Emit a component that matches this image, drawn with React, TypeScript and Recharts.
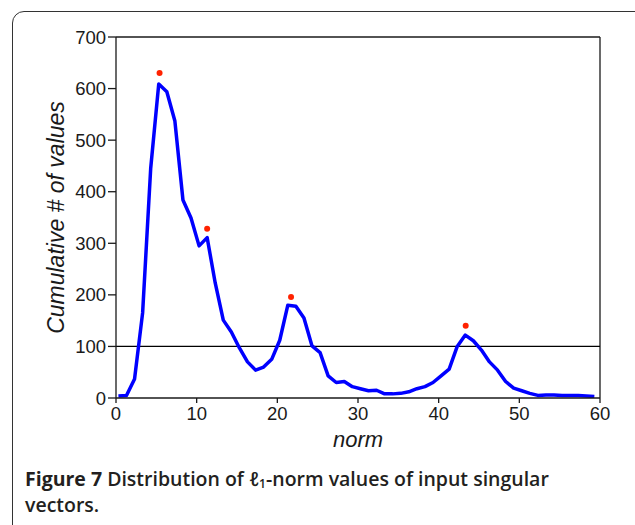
import React from 'react';
import { ComposedChart, Line, Scatter, XAxis, YAxis, ReferenceLine } from 'recharts';

const normValues = [
  0.3, 1.3, 2.3, 3.3, 4.3, 5.3, 6.3, 7.3, 8.3, 9.3,
  10.3, 11.3, 12.3, 13.3, 14.3, 15.3, 16.3, 17.3, 18.3, 19.3,
  20.3, 21.3, 22.3, 23.3, 24.3, 25.3, 26.3, 27.3, 28.3, 29.3,
  30.3, 31.3, 32.3, 33.3, 34.3, 35.3, 36.3, 37.3, 38.3, 39.3,
  40.3, 41.3, 42.3, 43.3, 44.3, 45.3, 46.3, 47.3, 48.3, 49.3,
  50.3, 51.3, 52.3, 53.3, 54.3, 55.3, 56.3, 57.3, 58.3, 59.3,
];
const counts = [
  4, 5, 37, 165, 445, 609, 594, 537, 384, 349,
  295, 311, 223, 151, 128, 97, 70, 54, 60, 75,
  112, 180, 178, 155, 101, 88, 43, 30, 32, 22,
  18, 14, 15, 8, 8, 9, 12, 18, 22, 30,
  43, 56, 100, 122, 111, 93, 70, 54, 32, 19,
  14, 9, 5, 6, 6, 5, 5, 5, 4, 3,
];
const peakNorms = [5.4, 11.3, 21.7, 43.35];
const peakCounts = [630, 328, 196, 140];
const xTicks = [0, 10, 20, 30, 40, 50, 60];
const yTicks = [0, 100, 200, 300, 400, 500, 600, 700];

const curve = normValues.map((n, i) => ({ norm: n, count: counts[i] }));
const peaks = peakNorms.map((n, i) => ({ norm: n, count: peakCounts[i] }));

const axisColor = '#1a1a1a';
const FONT = 'Liberation Sans, Arial, sans-serif';

const XTick = (props: any) => {
  const { x, y, payload } = props;
  return (
    <text x={x} y={y + 15} textAnchor="middle" fontFamily={FONT} fontSize={18.5} fill="#1a1a1a">
      {payload.value}
    </text>
  );
};

const YTick = (props: any) => {
  const { x, y, payload } = props;
  return (
    <text x={x} y={y + 6.5} textAnchor="end" fontFamily={FONT} fontSize={18.5} fill="#1a1a1a">
      {payload.value}
    </text>
  );
};

const captionStyle: React.CSSProperties = {
  position: 'absolute',
  left: 25,
  fontFamily: '"Open Sans", sans-serif',
  fontSize: 19.5,
  fontWeight: 600,
  lineHeight: '26px',
  color: '#231f20',
  whiteSpace: 'nowrap',
};

export default function App() {
  return (
    <div style={{ position: 'fixed', left: 0, top: 0, width: 635, height: 525, overflow: 'hidden', background: '#fff' }}>
      <div
        style={{
          position: 'absolute',
          left: 12,
          top: 11,
          width: 660,
          height: 560,
          border: '1.5px solid #333',
          borderRadius: 12,
          boxSizing: 'border-box',
        }}
      />
      <div style={{ position: 'absolute', left: 0, top: 0 }}>
        <ComposedChart width={635} height={470} margin={{ top: 37, right: 35, left: 0, bottom: 17 }}>
          <XAxis
            dataKey="norm"
            type="number"
            domain={[0, 60]}
            ticks={xTicks}
            allowDataOverflow
            stroke={axisColor}
            strokeWidth={1.3}
            tickSize={5}
            tickMargin={2}
            tick={<XTick />}
            height={55}
            label={{
              value: 'norm',
              position: 'insideBottom',
              offset: 6,
              style: { fontFamily: FONT, fontSize: 22, fontStyle: 'italic', fill: '#1a1a1a' },
            }}
          />
          <YAxis
            dataKey="count"
            type="number"
            domain={[0, 700]}
            ticks={yTicks}
            allowDataOverflow
            stroke={axisColor}
            strokeWidth={1.3}
            tickSize={8}
            tickMargin={2}
            tick={<YTick />}
            width={116}
            label={{
              value: 'Cumulative # of values',
              angle: -90,
              position: 'center',
              dx: -2,
              style: { fontFamily: FONT, fontSize: 23, fontStyle: 'italic', fill: '#1a1a1a', textAnchor: 'middle' },
            }}
          />
          <ReferenceLine y={700} stroke={axisColor} strokeWidth={1.3} />
          <ReferenceLine x={60} stroke={axisColor} strokeWidth={1.3} />
          <ReferenceLine y={100} stroke="#000" strokeWidth={1.3} />
          <Line
            data={curve}
            dataKey="count"
            type="linear"
            stroke="#0000ff"
            strokeWidth={3.5}
            dot={false}
            isAnimationActive={false}
            strokeLinejoin="round"
          />
          <Scatter
            data={peaks}
            dataKey="count"
            fill="#ff2200"
            isAnimationActive={false}
            shape={(props: any) => <circle cx={props.cx} cy={props.cy} r={3} fill="#ff2200" />}
          />
        </ComposedChart>
      </div>
      <div style={{ ...captionStyle, top: 466 }}>
        <span style={{ fontWeight: 700 }}>Figure 7</span>{' Distribution of ℓ'}
        <sub style={{ fontSize: 12, verticalAlign: '-2px', lineHeight: 0 }}>1</sub>
        {'-norm values of input singular'}
      </div>
      <div style={{ ...captionStyle, top: 492 }}>vectors.</div>
    </div>
  );
}
